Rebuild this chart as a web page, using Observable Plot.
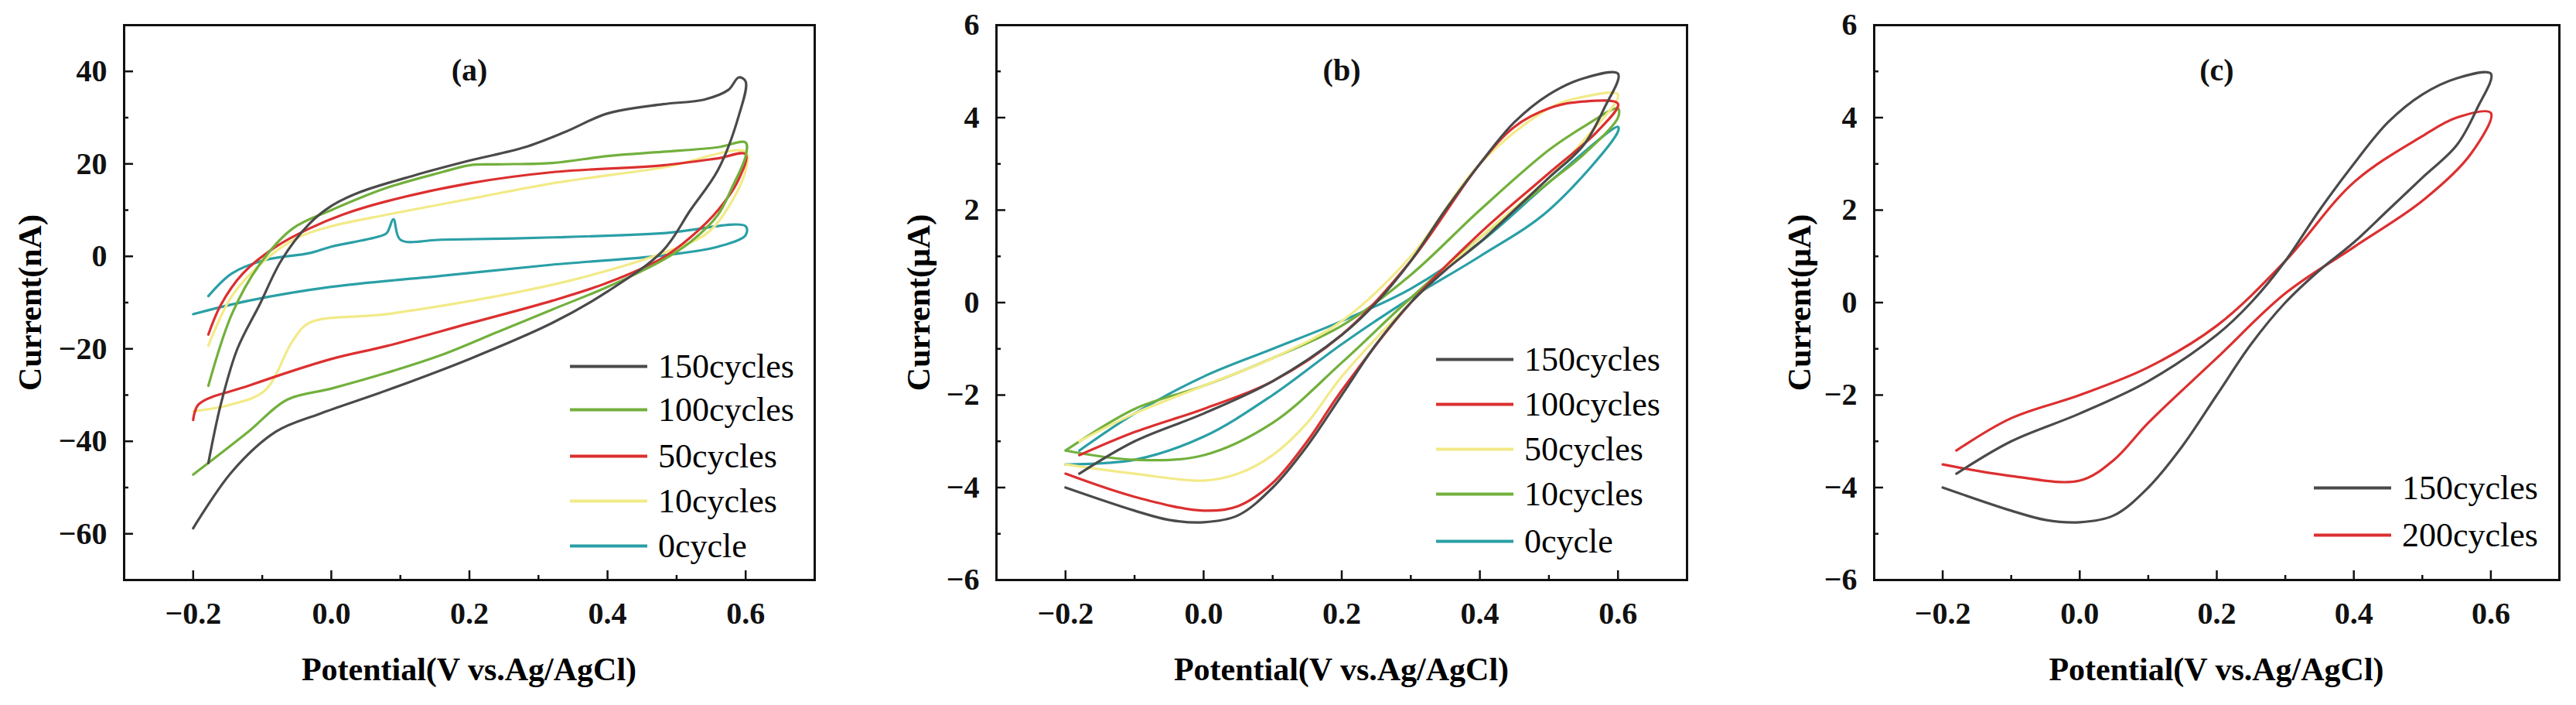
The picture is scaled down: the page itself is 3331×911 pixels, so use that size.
<!DOCTYPE html>
<html><head><meta charset="utf-8">
<script src="https://cdn.jsdelivr.net/npm/d3@7"></script>
<script src="https://cdn.jsdelivr.net/npm/@observablehq/plot@0.6"></script>
<style>
body{margin:0;background:#fff;width:3331px;height:911px;position:relative;overflow:hidden;font-family:"Liberation Serif",serif}
.panel{position:absolute;top:0}
.ylab{position:absolute;font-weight:bold;font-size:42px;transform:translate(-50%,-50%) rotate(-90deg);white-space:nowrap}
.xlab{position:absolute;font-weight:bold;font-size:42px;transform:translate(-50%,-50%);white-space:nowrap}
.leg{position:absolute;font-size:44px;display:flex;align-items:center;white-space:nowrap;transform:translateY(-50%)}
.leg span.l{display:inline-block;height:4px;margin-right:14px}
</style></head><body>
<script>
// Panel (a) current in nA — [potential V, current]
const a150 = [[-0.178,-44.7],[-0.16,-32],[-0.136,-20],[-0.104,-10.5],[-0.072,-0.8],[-0.032,7],[0,10.9],[0.04,13.8],[0.12,17.5],[0.2,20.7],[0.28,23.6],[0.34,27],[0.4,30.9],[0.48,32.9],[0.54,33.9],[0.575,36],[0.59,38.7],[0.6,37.8],[0.59,30.4],[0.56,18.7],[0.52,10],[0.48,1.2],[0.4,-7.6],[0.32,-14.4],[0.2,-22.2],[0.08,-29],[-0.016,-34],[-0.08,-37.9],[-0.144,-46.6],[-0.2,-58.8]];
const a100 = [[-0.178,-28],[-0.144,-12.5],[-0.104,-1.8],[-0.056,6],[0,10],[0.08,14.8],[0.16,18.2],[0.2,19.7],[0.24,19.9],[0.32,20.2],[0.4,21.7],[0.48,22.6],[0.56,23.6],[0.6,24.6],[0.6,21.7],[0.58,14.8],[0.56,9],[0.52,3.1],[0.48,-0.8],[0.4,-6.6],[0.32,-11.5],[0.24,-16.4],[0.16,-21.3],[0.08,-25.2],[0,-28.6],[-0.064,-31],[-0.12,-37.9],[-0.2,-47.2]];
const a50 = [[-0.178,-16.9],[-0.16,-10.5],[-0.128,-3.7],[-0.08,2.1],[-0.032,6],[0.016,9],[0.08,11.9],[0.2,15.8],[0.32,18.2],[0.48,19.7],[0.56,21.2],[0.6,22.1],[0.59,16.7],[0.56,10],[0.52,4.1],[0.48,-0.3],[0.4,-5.7],[0.32,-9.6],[0.2,-14.5],[0.08,-19.4],[0,-22.2],[-0.12,-28],[-0.192,-32],[-0.2,-35.4]];
const a10 = [[-0.178,-19.3],[-0.144,-8.6],[-0.096,-0.8],[-0.048,4.1],[0,6.5],[0.08,9],[0.2,12.4],[0.32,15.8],[0.48,19.2],[0.6,22.6],[0.6,18.7],[0.576,10.9],[0.544,5],[0.48,0.7],[0.36,-4.7],[0.24,-8.6],[0.08,-12.5],[-0.032,-14.4],[-0.056,-18.3],[-0.096,-29],[-0.144,-32],[-0.2,-33.5]];
const a0 = [[-0.178,-8.6],[-0.144,-3.7],[-0.096,-0.8],[-0.032,0.7],[0,2.1],[0.064,4.1],[0.08,5],[0.09,8],[0.1,3.6],[0.16,3.6],[0.32,4.1],[0.48,5],[0.6,6.5],[0.6,4.6],[0.56,2.1],[0.48,0.2],[0.32,-1.8],[0.16,-4.2],[0,-6.6],[-0.12,-9.6],[-0.2,-12.5]];
// Panel (b) current in µA
const b150 = [[-0.18,-3.7],[-0.1,-3.0],[0,-2.4],[0.1,-1.7],[0.2,-0.7],[0.25,0],[0.3,0.9],[0.35,2.0],[0.4,3.0],[0.45,3.9],[0.5,4.5],[0.55,4.85],[0.6,4.95],[0.58,4.2],[0.55,3.4],[0.5,2.7],[0.45,2.0],[0.4,1.3],[0.35,0.7],[0.3,0],[0.25,-0.9],[0.2,-2.0],[0.15,-3.1],[0.1,-4.0],[0.05,-4.6],[0,-4.75],[-0.05,-4.7],[-0.1,-4.5],[-0.2,-4.0]];
const b100 = [[-0.18,-3.3],[-0.1,-2.8],[0,-2.3],[0.1,-1.7],[0.2,-0.7],[0.3,0.9],[0.4,3.0],[0.45,3.8],[0.5,4.2],[0.55,4.35],[0.6,4.3],[0.57,3.7],[0.5,2.8],[0.4,1.5],[0.3,0],[0.2,-1.9],[0.15,-3.0],[0.1,-3.9],[0.05,-4.4],[0,-4.5],[-0.1,-4.2],[-0.2,-3.7]];
const b50 = [[-0.18,-3.0],[-0.1,-2.4],[0,-1.8],[0.1,-1.2],[0.2,-0.4],[0.3,1.0],[0.4,3.0],[0.5,4.2],[0.55,4.45],[0.6,4.5],[0.55,3.5],[0.5,2.7],[0.4,1.4],[0.3,0],[0.2,-1.6],[0.15,-2.6],[0.1,-3.3],[0.05,-3.7],[0,-3.85],[-0.1,-3.7],[-0.2,-3.5]];
const b10 = [[-0.2,-3.2],[-0.1,-2.3],[0,-1.8],[0.1,-1.2],[0.2,-0.5],[0.3,0.6],[0.4,2.0],[0.5,3.3],[0.55,3.8],[0.6,4.2],[0.6,4.0],[0.55,3.2],[0.5,2.6],[0.4,1.4],[0.3,0.1],[0.2,-1.3],[0.1,-2.6],[0,-3.3],[-0.1,-3.4],[-0.2,-3.2]];
const b0 = [[-0.18,-3.2],[-0.1,-2.4],[0,-1.6],[0.1,-1.0],[0.2,-0.4],[0.3,0.3],[0.4,1.3],[0.5,2.6],[0.6,3.8],[0.6,3.7],[0.5,2.0],[0.4,1.0],[0.3,0.1],[0.2,-0.9],[0.1,-2.0],[0,-2.9],[-0.1,-3.4],[-0.2,-3.5]];
// Panel (c)
const c150 = b150;
const c200 = [[-0.18,-3.2],[-0.1,-2.5],[0,-2.0],[0.1,-1.4],[0.2,-0.5],[0.3,0.9],[0.4,2.6],[0.5,3.6],[0.55,4.0],[0.6,4.1],[0.57,3.2],[0.5,2.2],[0.4,1.2],[0.3,0.2],[0.2,-1.2],[0.1,-2.6],[0.05,-3.4],[0,-3.85],[-0.1,-3.75],[-0.2,-3.5]];

const xTicks = [-0.2,0,0.2,0.4,0.6];
const xMinor = [-0.1,0.1,0.3,0.5];
const yTicksA = [-60,-40,-20,0,20,40];
const yMinorA = [-70,-50,-30,-10,10,30,50];
const yTicksB = [-6,-4,-2,0,2,4,6];
const yMinorB = [-5,-3,-1,1,3,5];

const colors = {k:"#4a4a4a", g:"#72b03c", r:"#dc2f2f", y:"#f2ea88", t:"#2a9fa6"};

const panels = [
 {id:"(a)", left:160, fw:893, ydom:[-70,50], yt:yTicksA, ym:yMinorA, ylabel:"Current(nA)", yoff:-121,
  series:[["150cycles",a150,colors.k],["100cycles",a100,colors.g],["50cycles",a50,colors.r],["10cycles",a10,colors.y],["0cycle",a0,colors.t]],
  legX:737, legRows:[473,529,589,647,705]},
 {id:"(b)", left:1288, fw:893, ydom:[-6,6], yt:yTicksB, ym:yMinorB, ylabel:"Current(μA)", yoff:-100,
  series:[["150cycles",b150,colors.k],["100cycles",b100,colors.r],["50cycles",b50,colors.y],["10cycles",b10,colors.g],["0cycle",b0,colors.t]],
  legX:1857, legRows:[464,522,580,638,699]},
 {id:"(c)", left:2423, fw:886, ydom:[-6,6], yt:yTicksB, ym:yMinorB, ylabel:"Current(μA)", yoff:-96,
  series:[["150cycles",c150,colors.k],["200cycles",c200,colors.r]],
  legX:2992, legRows:[630,691]}
];

const ML=160, MT=32, MB=162, H=911;
for (const p of panels) {
  const data = p.series.flatMap(([name,pts]) => pts.map(([x,y],i)=>({name,x,y,i})));
  const cmap = Object.fromEntries(p.series.map(s=>[s[0],s[2]]));
  const fmt = d => d3.format(".1f")(d).replace("-","−");
  const svg = Plot.plot({
    width: p.fw+ML+20, height: H, marginLeft: ML, marginRight: 20, marginTop: MT, marginBottom: MB,
    style:{background:"transparent", fontFamily:"Liberation Serif, serif", color:"#111"},
    x:{domain:[-0.3,0.7]}, y:{domain:p.ydom},
    marks:[
      Plot.line(data.slice().reverse(), {x:"x", y:"y", z:"name", sort:null, stroke:d=>cmap[d.name], strokeWidth:3.2, curve:"catmull-rom"}),
      Plot.axisX({ticks:xTicks, tickSize:0, tickPadding:28, tickFormat:fmt, fontSize:40, fontWeight:"bold", label:null}),
      Plot.axisX({ticks:xTicks, tickSize:-12, tickFormat:()=>"", label:null, strokeWidth:2.5}),
      Plot.axisX({ticks:xMinor, tickSize:-6, tickFormat:()=>"", label:null, strokeWidth:2.5}),
      Plot.axisY({ticks:p.yt, tickSize:0, tickPadding:22, tickFormat:d=>String(d).replace("-","−"), fontSize:40, fontWeight:"bold", label:null}),
      Plot.axisY({ticks:p.yt, tickSize:-12, tickFormat:()=>"", label:null, strokeWidth:2.5}),
      Plot.axisY({ticks:p.ym, tickSize:-6, tickFormat:()=>"", label:null, strokeWidth:2.5}),
      Plot.frame({stroke:"#111", strokeWidth:3}),
      Plot.text([p.id], {frameAnchor:"top", dy:43, text:d=>d, fontSize:40, fontWeight:"bold", fill:"#111"})
    ]
  });
  // Draw the series in original order on top (first series drawn last = on top)
  const div = document.createElement("div");
  div.className="panel"; div.style.left=(p.left-ML)+"px";
  div.appendChild(svg); document.body.appendChild(div);
  const yl = document.createElement("div"); yl.className="ylab"; yl.textContent=p.ylabel;
  yl.style.left=(p.left+p.yoff)+"px"; yl.style.top=(MT+(H-MT-MB)/2)+"px"; document.body.appendChild(yl);
  const xl = document.createElement("div"); xl.className="xlab"; xl.textContent="Potential(V vs.Ag/AgCl)";
  xl.style.left=(p.left+p.fw/2)+"px"; xl.style.top="865px"; document.body.appendChild(xl);
  p.series.forEach(([name,,col],k)=>{
    const lg=document.createElement("div"); lg.className="leg";
    lg.style.left=p.legX+"px"; lg.style.top=p.legRows[k]+"px";
    lg.innerHTML=`<span class="l" style="width:100px;background:${col}"></span>${name}`;
    document.body.appendChild(lg);
  });
}
</script>
</body></html>
